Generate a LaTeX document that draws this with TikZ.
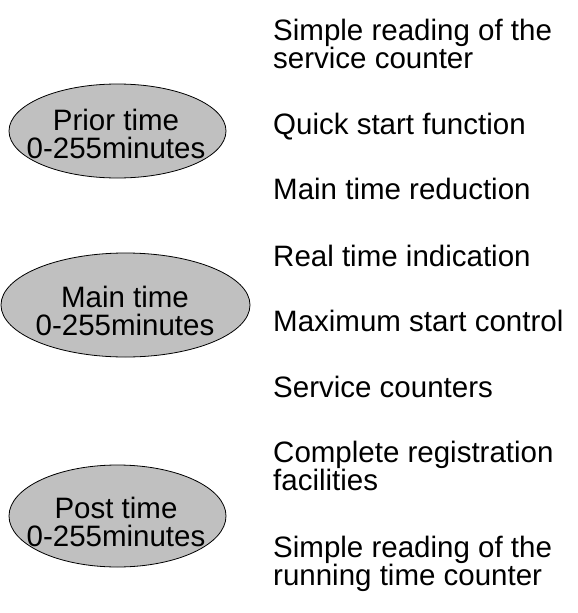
\documentclass[tikz,border=0pt]{standalone}
\usepackage{fontspec}
\setmainfont{Liberation Sans}
\usetikzlibrary{shapes.geometric}

\newcommand{\dgfont}{\fontsize{29.5}{28}\selectfont}

\begin{document}
\begin{tikzpicture}
      [x=1pt,y=-1pt,
        timeoval/.style={draw=black,line width=0.8pt,fill=ovalgray,ellipse,inner sep=0pt},
        ovaltext/.style={align=center,inner sep=0pt,font=\dgfont},
        feature/.style={anchor=base west,align=left,inner sep=0pt,font=\dgfont}]
      \definecolor{ovalgray}{RGB}{192,192,192}
      \useasboundingbox (0,0) rectangle (578,613);
      \node[timeoval,minimum width=217pt,minimum height=94pt] (prior) at (117.5,131) {};
      \node[timeoval,minimum width=249pt,minimum height=104pt] (main) at (125.5,305) {};
      \node[timeoval,minimum width=217pt,minimum height=102pt] (post) at (117.5,516) {};
      \node[ovaltext] (priortxt) at (116,134) {Prior time\\0-255minutes};
      \node[ovaltext] (maintxt) at (125,311) {Main time\\0-255minutes};
      \node[ovaltext] (posttxt) at (116,522) {Post time\\0-255minutes};
      \node[feature] (simple) at (273,68) {Simple reading of the\\service counter};
      \node[feature] (quick) at (273,134) {Quick start function};
      \node[feature] (reduct) at (273,199) {Main time reduction};
      \node[feature] (real) at (273,266) {Real time indication};
      \node[feature] (maxstart) at (273,331) {Maximum start control};
      \node[feature] (servc) at (273,397) {Service counters};
      \node[feature] (regist) at (273,490) {Complete registration\\facilities};
      \node[feature] (running) at (273,585) {Simple reading of the\\running time counter};
    \end{tikzpicture}
\end{document}
